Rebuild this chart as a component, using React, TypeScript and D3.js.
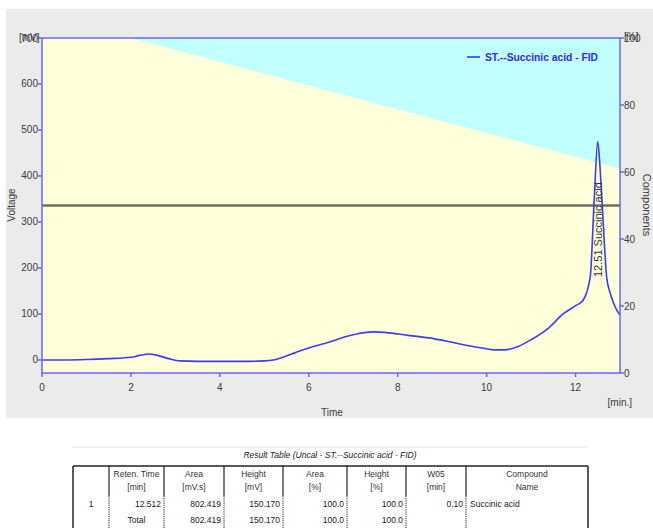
import React from "react";
import * as d3 from "d3";

const signalT = [0, 0.5, 1, 1.5, 2, 2.2, 2.4, 2.6, 2.85, 3.1, 3.5, 4, 4.5, 5, 5.2, 5.45, 5.7, 6, 6.25, 6.5, 6.8, 7.1, 7.45, 7.8, 8.2, 8.7, 9.2, 9.6, 9.9, 10.2, 10.4, 10.7, 11, 11.4, 11.72, 12, 12.17, 12.33, 12.42, 12.5, 12.55, 12.6, 12.65, 12.7, 12.78, 12.85, 12.93, 13];
const signalMV = [0, 0, 1, 3, 6, 10, 13, 10, 3, -2, -3, -3, -3, -2, 0, 7, 16, 26, 33, 40, 50, 57, 61, 59, 54, 48, 39, 31, 26, 22, 22, 29, 44, 70, 100, 118, 130, 180, 348, 475, 420, 340, 250, 180, 145, 125, 108, 98];

const gradientT = [2, 13];
const gradientPct = [100, 61];
const baselinePct = 50;

const leftTicks = [0, 100, 200, 300, 400, 500, 600, 700];
const rightTicks = [0, 20, 40, 60, 80, 100];
const timeTicks = [0, 2, 4, 6, 8, 10, 12];

const tableCols = [73, 109, 164, 224, 283, 347, 406, 466, 588];
const headerLine1 = ["", "Reten. Time", "Area", "Height", "Area", "Height", "W05", "Compound"];
const headerLine2 = ["", "[min]", "[mV.s]", "[mV]", "[%]", "[%]", "[min]", "Name"];
const row1 = ["1", "12.512", "802.419", "150.170", "100.0", "100.0", "0.10", "Succinic acid"];
const rowTotal = ["", "Total", "802.419", "150.170", "100.0", "100.0", "", ""];

const W = 653;
const H = 528;
const L = 42, R = 620, T = 38, B = 373;
const axisColor = "#6767ff";
const tickText = "#3a3a3a";
const font = "'Liberation Sans', Arial, sans-serif";

export default function App() {
  const x = d3.scaleLinear().domain([0, 13]).range([L, R]);
  const y = d3.scaleLinear().domain([-28.3, 700]).range([B, T]);
  const yp = d3.scaleLinear().domain([0, 100]).range([B, T]);

  const pts: [number, number][] = signalT.map((t, i) => [t, signalMV[i]]);
  const line = d3.line<[number, number]>().x(d => x(d[0])).y(d => y(d[1])).curve(d3.curveMonotoneX);

  const cyanPoly = [
    [x(gradientT[0]), yp(gradientPct[0])],
    [x(gradientT[1]), yp(gradientPct[1])],
    [x(13), yp(100)],
  ].map(p => p.join(",")).join(" ");

  const rowY = [504, 520];
  const rightAlignedCols = [1, 2, 3, 4, 5, 6];

  return (
    <svg width={W} height={H} style={{ position: "absolute", left: 0, top: 0, background: "#fff" }} fontFamily={font}>
      <rect x={6} y={9} width={647} height={409} fill="#ebebeb" />
      <rect x={L} y={T} width={R - L} height={B - T} fill="#ffffd9" />
      <polygon points={cyanPoly} fill="#c2ffff" />
      <line x1={L} x2={R} y1={yp(baselinePct)} y2={yp(baselinePct)} stroke="#6e6e60" strokeWidth={2.5} />
      <path d={line(pts) || ""} fill="none" stroke="#3c3cf0" strokeWidth={1.6} />
      <rect x={L} y={T} width={R - L} height={B - T} fill="none" stroke={axisColor} strokeWidth={1.5} />
      {leftTicks.map(v => (
        <g key={"l" + v}>
          <line x1={L - 4} x2={L} y1={y(v)} y2={y(v)} stroke={axisColor} strokeWidth={1.5} />
          <text x={L - 4} y={y(v) + 3.5} fontSize={10} textAnchor="end" fill={tickText}>{v}</text>
        </g>
      ))}
      {rightTicks.map(v => (
        <g key={"r" + v}>
          <line x1={R} x2={R + 4} y1={yp(v)} y2={yp(v)} stroke={axisColor} strokeWidth={1.5} />
          <text x={R + 4} y={yp(v) + 3.5} fontSize={10} textAnchor="start" fill={tickText}>{v}</text>
        </g>
      ))}
      {timeTicks.map(v => (
        <g key={"b" + v}>
          <line x1={x(v)} x2={x(v)} y1={B} y2={B + 4} stroke={axisColor} strokeWidth={1.5} />
          <text x={x(v)} y={391} fontSize={10} textAnchor="middle" fill={tickText}>{v}</text>
        </g>
      ))}
      <text x={19} y={41} fontSize={10} fill={tickText}>[mV]</text>
      <text x={624} y={40} fontSize={10} fill={tickText}>[%]</text>
      <text x={632} y={406} fontSize={10} textAnchor="end" fill={tickText}>[min.]</text>
      <text x={332} y={416} fontSize={10} textAnchor="middle" fill={tickText}>Time</text>
      <text transform="translate(15,205) rotate(-90)" fontSize={10} textAnchor="middle" fill={tickText}>Voltage</text>
      <text transform="translate(643,205) rotate(90)" fontSize={11} textAnchor="middle" fill={tickText}>Components</text>
      <line x1={467} x2={480} y1={57} y2={57} stroke="#2a2aff" strokeWidth={1.5} />
      <text x={485} y={61} fontSize={10} fontWeight="bold" fill="#2a2aff" textLength={113} lengthAdjust="spacingAndGlyphs">ST.--Succinic acid  - FID</text>
      <text transform={`translate(${x(12.5) + 4},277) rotate(-90)`} fontSize={11} fill="#333">12.51 Succinic acid</text>

      <line x1={72} x2={588} y1={447} y2={447} stroke="#e4e4e4" strokeWidth={1} />
      <text x={330} y={458} fontSize={8.5} fontStyle="italic" textAnchor="middle" fill="#222">Result Table (Uncal - ST.--Succinic acid  - FID)</text>
      <line x1={tableCols[0]} x2={tableCols[8]} y1={466} y2={466} stroke="#222" strokeWidth={1.5} />
      {tableCols.map((cx, i) => {
        const outer = i === 0 || i === tableCols.length - 1;
        return (
          <g key={"c" + i}>
            <line x1={cx} x2={cx} y1={466} y2={496} stroke="#222" strokeWidth={outer ? 1.5 : 1.2} />
            <line x1={cx} x2={cx} y1={496} y2={H} stroke="#222" strokeWidth={outer ? 1.5 : 1} strokeDasharray={outer ? undefined : "1.2 1"} />
          </g>
        );
      })}
      {headerLine1.map((s, i) => (
        <text key={"h1" + i} x={(tableCols[i] + tableCols[i + 1]) / 2} y={477} fontSize={8.5} textAnchor="middle" fill="#333">{s}</text>
      ))}
      {headerLine2.map((s, i) => (
        <text key={"h2" + i} x={(tableCols[i] + tableCols[i + 1]) / 2} y={490} fontSize={8.5} textAnchor="middle" fill="#333">{s}</text>
      ))}
      {[row1, rowTotal].map((row, r) =>
        row.map((s, i) => {
          if (!s) return null;
          let xx = (tableCols[i] + tableCols[i + 1]) / 2;
          let anchor: "start" | "middle" | "end" = "middle";
          if (i === 7) { xx = tableCols[i] + 4; anchor = "start"; }
          else if (rightAlignedCols.includes(i) && !(r === 1 && i === 1)) { xx = tableCols[i + 1] - 3; anchor = "end"; }
          return <text key={"r" + r + i} x={xx} y={rowY[r] + 3} fontSize={8.5} textAnchor={anchor} fill="#222">{s}</text>;
        })
      )}
    </svg>
  );
}
